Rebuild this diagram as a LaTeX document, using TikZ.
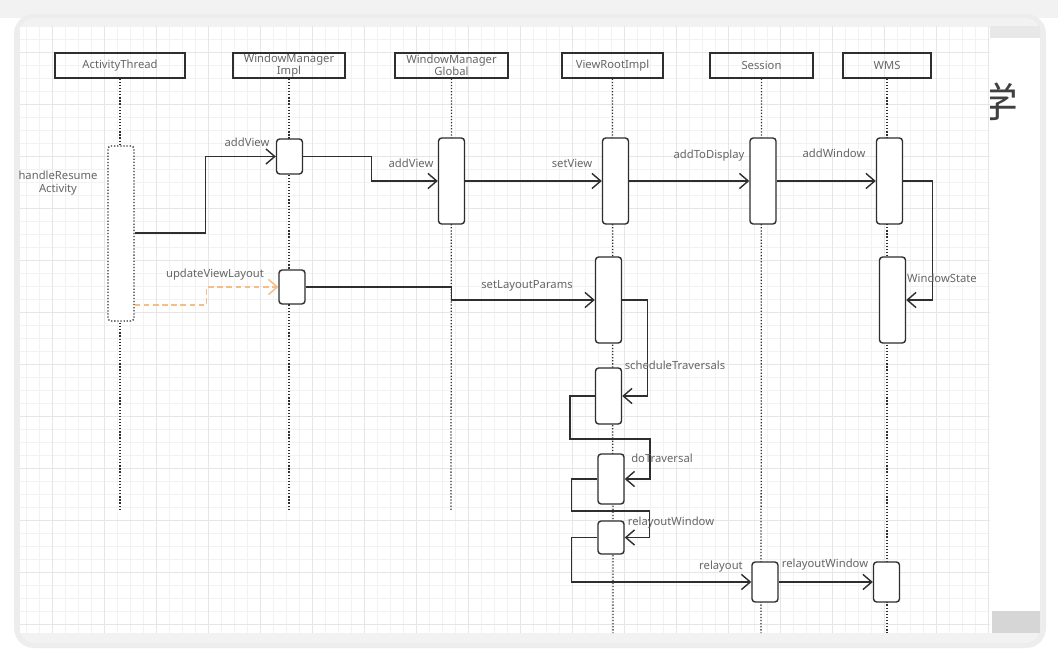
\documentclass[tikz,border=0pt]{standalone}
\usepackage{fontspec}
\setmainfont{Noto Sans}
\newfontfamily\cjkfont{Noto Sans CJK SC}
\usepackage{tikz}
\usetikzlibrary{arrows.meta,calc}

\definecolor{ink}{HTML}{2E2E2E}
\definecolor{txt}{HTML}{666666}
\definecolor{gridc}{HTML}{F2F2F2}
\definecolor{gridd}{HTML}{E6E6E6}
\definecolor{orng}{HTML}{F5BE86}

\tikzset{
  obj/.style={draw=ink, line width=1pt, minimum height=6.25mm, inner sep=0pt,
    font=\fontsize{8}{8.6}\selectfont, text=txt, align=center},
  act/.style={draw=ink, line width=1pt, fill=white, rounded corners=0.8mm,
    minimum width=6.5mm, inner sep=0pt},
  life/.style={draw=ink, line width=0.9pt, dash pattern=on 0.9pt off 1.3pt},
  msg/.style={draw=ink, line width=1pt, -{Straight Barb[length=2.2mm,width=3.8mm]}},
  upd/.style={draw=orng, line width=1pt, dash pattern=on 4pt off 2.5pt,
    -{Straight Barb[length=2.2mm,width=3.8mm]}},
  lbl/.style={font=\fontsize{8}{9.5}\selectfont, text=txt, inner sep=0pt, align=center}
}

\begin{document}
\begin{tikzpicture}[x=0.25mm,y=-0.25mm]
\useasboundingbox (0,0) rectangle (1058,662);

% screen panel
\fill[white] (0,0) rectangle (1058,662);
\fill[black!5] (0,0) rectangle (1058,18);
\fill[black!7,rounded corners=5mm] (14,14) rectangle (1046,648);
\fill[black!5,rounded corners=3.75mm] (20,18) rectangle (1040,643);
\fill[white] (20,26) rectangle (1040,633);
\fill[black!9] (990,26) rectangle (1040,38);
\fill[black!16] (992,611) rectangle (1040,633);
\begin{scope}
\clip (20,26) rectangle (990,633);
\draw[gridc,line width=0.4pt,step=3.25mm] (20,26) grid (990,633);
\draw[gridd,line width=0.4pt,step=13mm] (20,26) grid (990,633);
\end{scope}
\begin{scope}
\clip (990,40) rectangle (1040,200);
\node[text=black!75,font=\cjkfont\fontsize{29}{30}\selectfont] (xue) at (998,102) {学};
\end{scope}

% objects
\node[obj,minimum width=32.5mm] (at) at (120,65.5) {ActivityThread};
\node[obj,minimum width=28mm] (wi) at (289,65.5) {WindowManager\\Impl};
\node[obj,minimum width=28.25mm] (wg) at (451.5,65.5) {WindowManager\\Global};
\node[obj,minimum width=25.25mm] (vr) at (612.5,65.5) {ViewRootImpl};
\node[obj,minimum width=25.75mm] (se) at (761.5,65.5) {Session};
\node[obj,minimum width=22mm] (wm) at (887,65.5) {WMS};

% lifelines
\coordinate (atE) at (120,510);
\coordinate (wiE) at (289,510);
\coordinate (wgE) at (451,510);
\coordinate (vrE) at (613,633);
\coordinate (seE) at (761,633);
\coordinate (wmE) at (887,633);
\draw[life] (at) -- (atE);
\draw[life] (wi) -- (wiE);
\draw[life] (wg) -- (wgE);
\draw[life] (vr) -- (vrE);
\draw[life] (se) -- (seE);
\draw[life] (wm) -- (wmE);

% activations
\node[act,minimum height=43.75mm,dash pattern=on 0.9pt off 1.3pt] (at1) at (121,233.5) {};
\node[act,minimum height=8.75mm] (wi1) at (289.5,156.5) {};
\node[act,minimum height=8.5mm] (wi2) at (292,287) {};
\node[act,minimum height=21.5mm] (wg1) at (451.5,181) {};
\node[act,minimum height=21.5mm] (vr1) at (615.5,181) {};
\node[act,minimum height=21.5mm] (vr2) at (608.5,300) {};
\node[act,minimum height=14mm] (vr3) at (608.5,396) {};
\node[act,minimum height=12.5mm] (vr4) at (611,479) {};
\node[act,minimum height=8.25mm] (vr5) at (611,537.5) {};
\node[act,minimum height=21.5mm] (se1) at (763,181) {};
\node[act,minimum height=10mm] (se2) at (765,582) {};
\node[act,minimum height=21.5mm] (wm1) at (889.5,181) {};
\node[act,minimum height=21.5mm] (wm2) at (892.5,300) {};
\node[act,minimum height=10mm] (wm3) at (886.5,582) {};

\node[lbl] (hra) at (58,183) {handleResume\\Activity};

% messages
\draw[msg] (at1.east |- 0,233) -- ++(71,0) |- (wi1.west);
\draw[msg] (wi1.east) -- ++(68,0) |- (wg1.west);
\draw[msg] (wg1.east) -- (vr1.west);
\draw[msg] (vr1.east) -- (se1.west);
\draw[msg] (se1.east) -- (wm1.west);
\draw[msg] (wm1.east) -- ++(29,0) |- (wm2.east);
\draw[upd] (at1.east |- 0,305) -- ++(72,0) |- (wi2.west);
\draw[msg] (wi2.east) -- (wi2.east -| wg) |- (vr2.west);
\draw[msg] (vr2.east) -- ++(25,0) |- (vr3.east);
\draw[msg] (vr3.west) -- ++(-25,0) |- ++(80,43) |- (vr4.east);
\draw[msg] (vr4.west) -- ++(-26,0) |- ++(78,32) |- (vr5.east);
\draw[msg] (vr5.west) -- ++(-26,0) |- (se2.west);
\draw[msg] (se2.east) -- (wm3.west);

% labels
\node[lbl] (l1) at (247,142) {addView};
\node[lbl] (l2) at (411,163) {addView};
\node[lbl] (l3) at (572,163) {setView};
\node[lbl] (l4) at (709,156) {addToDisplay};
\node[lbl] (l5) at (834,153) {addWindow};
\node[lbl] (l6) at (942,278) {WindowState};
\node[lbl] (l7) at (215,275) {updateViewLayout};
\node[lbl] (l8) at (527,286) {setLayoutParams};
\node[lbl] (l9) at (675,365) {scheduleTraversals};
\node[lbl] (l10) at (662,458) {doTraversal};
\node[lbl] (l11) at (671,523) {relayoutWindow};
\node[lbl] (l12) at (721,567) {relayout};
\node[lbl] (l13) at (825,565) {relayoutWindow};
\end{tikzpicture}
\end{document}
